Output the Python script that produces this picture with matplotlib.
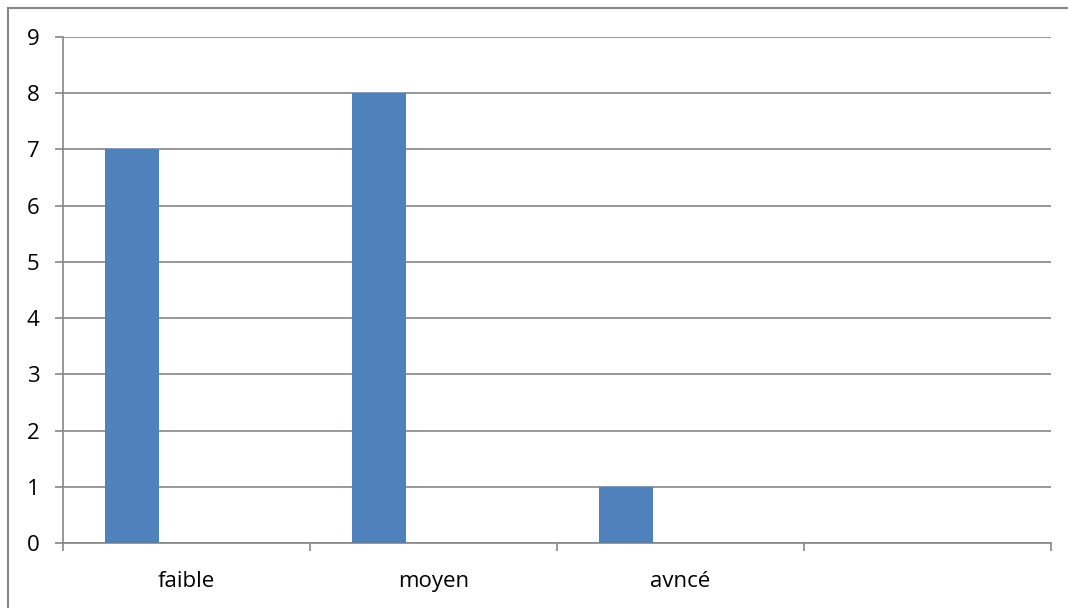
import matplotlib
matplotlib.use("Agg")
import matplotlib.pyplot as plt
import numpy as np

categories = ["faible", "moyen", "avncé", ""]
values = [7, 8, 1, 0]
y_ticks = list(range(0, 10))

bar_color = "#4F81BD"
grid_color = "#868686"

plt.rcParams["font.family"] = ["Open Sans", "DejaVu Sans"]

fig = plt.figure(figsize=(10.68, 6.08), dpi=100)
ax = fig.add_axes([63.3 / 1068, 1 - 543.3 / 608, (1050.7 - 63.3) / 1068, (543.3 - 36.7) / 608])

x = np.arange(len(categories))
offset = -0.221
ax.bar(x[:3] + offset, values[:3], width=0.22, color=bar_color, zorder=3)

ax.set_xlim(-0.5, len(categories) - 0.5)
ax.set_ylim(0, 9)
ax.set_yticks(y_ticks)
ax.yaxis.grid(True, color=grid_color, linewidth=1.2, zorder=0)

# category labels centred, tick marks on the boundaries
ax.set_xticks(x)
ax.set_xticklabels(categories)
ax.set_xticks(np.arange(-0.5, len(categories)), minor=True)
ax.tick_params(axis="x", which="major", length=0, pad=20, labelsize=16)
ax.tick_params(axis="x", which="minor", length=6, width=1.2, color=grid_color, direction="out")
ax.tick_params(axis="y", length=6, width=1.2, color=grid_color, pad=11, labelsize=16)

for s in ["top", "right"]:
    ax.spines[s].set_visible(False)
for s in ["left", "bottom"]:
    ax.spines[s].set_color(grid_color)
    ax.spines[s].set_linewidth(1.2)

# outer chart border (only left and top are visible in the crop)
fig.add_artist(plt.Line2D([7.5 / 1068, 7.5 / 1068], [0, 1 - 7.5 / 608], transform=fig.transFigure,
                          color=grid_color, linewidth=1.5))
fig.add_artist(plt.Line2D([7.5 / 1068, 1], [1 - 7.5 / 608, 1 - 7.5 / 608], transform=fig.transFigure,
                          color=grid_color, linewidth=1.5))

fig.savefig("out.png", dpi=100)
